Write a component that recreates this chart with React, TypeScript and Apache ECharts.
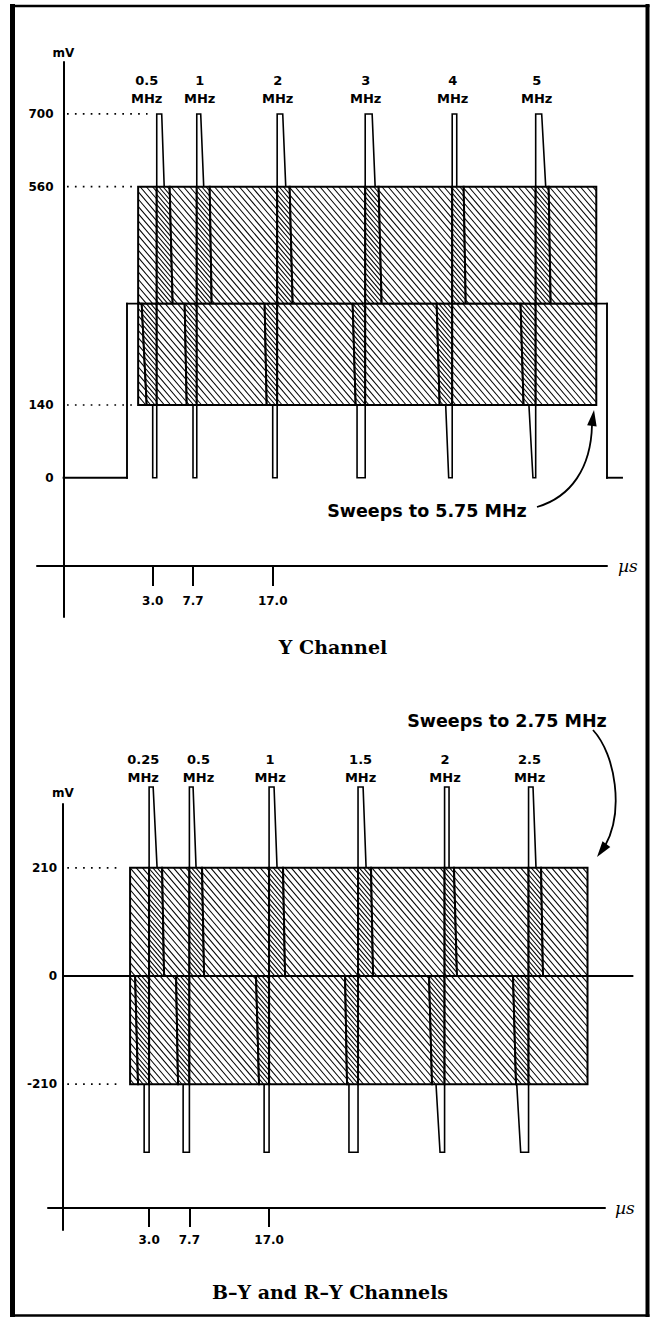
import React, { useEffect, useRef } from "react";
import * as echarts from "echarts";

// ---------------- shared ----------------
const TIME_TICKS_US = [3.0, 7.7, 17.0];

// ---------------- Y channel (time in µs, level in mV) ----------------
const Y_AXIS_LEVELS_MV = [0, 140, 560, 700];
const Y_SPIKE_TOP_MV = 700;
const Y_PACKET_TOP_MV = 560;
const Y_PEDESTAL_MV = 335;
const Y_PACKET_BOTTOM_MV = 140;
const Y_BASE_MV = 0;
const Y_FREQ_MHZ = ["0.5", "1", "2", "3", "4", "5"];
const Y_FREQ_LABEL_US = [2.3, 8.48, 17.58, 27.85, 38.0, 47.8];
const Y_BURST_US = [3.47, 8.14, 17.52, 27.79, 37.94, 47.68];
const Y_UPPER_STRIP_END_TOP_US = [4.98, 9.65, 18.98, 29.36, 39.28, 49.2];
const Y_UPPER_STRIP_END_BOT_US = [5.33, 9.88, 19.33, 29.71, 39.52, 49.43];
const Y_LOWER_STRIP_START_TOP_US = [1.72, 6.73, 16.06, 26.33, 36.13, 45.92];
const Y_LOWER_STRIP_START_BOT_US = [2.3, 6.97, 16.3, 26.68, 36.48, 46.27];
const Y_TOP_SPIKE_END_TOP_US = [4.05, 8.6, 18.17, 28.6, 38.47, 48.38];
const Y_TOP_SPIKE_END_BASE_US = [4.34, 8.95, 18.52, 28.95, 38.47, 48.85];
const Y_BOT_SPIKE_START_TOP_US = [3.0, 7.7, 17.0, 26.84, 37.18, 46.89];
const Y_BOT_SPIKE_START_BASE_US = [3.0, 7.7, 17.0, 26.84, 37.53, 47.36];
const Y_PACKET_START_US = 1.3;
const Y_PACKET_END_US = 54.75;
const Y_SIGNAL_US = [-7.4, 0, 0, 56, 56, 57.75];
const Y_SIGNAL_MV = [0, 0, 335, 335, 0, 0];
const Y_LEADER_MV = [700, 560, 140];
const Y_LEADER_START_US = -7.0;
const Y_LEADER_END_US = [2.4, 0.9, 0.67];

// ---------------- B-Y / R-Y channels ----------------
const C_AXIS_LEVELS_MV = [-210, 0, 210];
const C_SPIKE_TOP_MV = 367;
const C_PACKET_TOP_MV = 210;
const C_MID_MV = 0;
const C_PACKET_BOTTOM_MV = -210;
const C_SPIKE_BOTTOM_MV = -342;
const C_FREQ_MHZ = ["0.25", "0.5", "1", "1.5", "2", "2.5"];
const C_FREQ_LABEL_US = [2.31, 8.77, 17.12, 27.68, 37.53, 47.4];
const C_BURST_US = [3.0, 7.7, 17.0, 27.38, 37.48, 47.28];
const C_UPPER_STRIP_END_TOP_US = [4.52, 9.18, 18.63, 28.9, 38.58, 48.74];
const C_UPPER_STRIP_END_BOT_US = [4.75, 9.42, 18.87, 29.14, 38.93, 48.97];
const C_LOWER_STRIP_START_TOP_US = [1.37, 6.15, 15.48, 25.87, 35.67, 45.47];
const C_LOWER_STRIP_START_BOT_US = [1.71, 6.38, 15.83, 26.1, 36.02, 45.82];
const C_TOP_SPIKE_END_TOP_US = [3.47, 8.13, 17.58, 27.97, 38.0, 47.8];
const C_TOP_SPIKE_END_BASE_US = [3.93, 8.48, 17.93, 28.32, 38.0, 48.15];
const C_BOT_SPIKE_START_TOP_US = [2.42, 6.97, 16.42, 26.32, 36.48, 45.9];
const C_BOT_SPIKE_START_BASE_US = [2.42, 6.97, 16.42, 26.32, 36.95, 46.36];
const C_PACKET_START_US = 0.78;
const C_PACKET_END_US = 54.16;
const C_BASELINE_US = [-7.05, 59.4];
const C_LEADER_MV = [210, -210];
const C_LEADER_START_US = -6.55;
const C_LEADER_END_US = [-0.15, -0.15];

// ---------------- builders ----------------
function upperSegments(start, end, burst, endTop, endBot, vTop, vBot) {
  const b: number[][] = [[start, start]];
  burst.forEach((t, k) => {
    b.push([t, t]);
    b.push([endTop[k], endBot[k]]);
  });
  b.push([end, end]);
  const out: number[][] = [];
  for (let i = 0; i < b.length - 1; i++) {
    out.push([b[i][0], b[i][1], b[i + 1][0], b[i + 1][1], vTop, vBot, i % 2]);
  }
  return out;
}
function lowerSegments(start, end, burst, startTop, startBot, vTop, vBot) {
  const b: number[][] = [[start, start]];
  burst.forEach((t, k) => {
    b.push([startTop[k], startBot[k]]);
    b.push([t, t]);
  });
  b.push([end, end]);
  const out: number[][] = [];
  for (let i = 0; i < b.length - 1; i++) {
    out.push([b[i][0], b[i][1], b[i + 1][0], b[i + 1][1], vTop, vBot, i % 2]);
  }
  return out;
}
function topSpikes(burst, endTop, endBase, vBase, vTop) {
  return burst.map((t, k) => [t, vBase, t, vTop, endTop[k], vTop, endBase[k], vBase]);
}
function bottomSpikes(burst, startTop, startBase, vHigh, vLow) {
  return burst.map((t, k) => [startTop[k], vHigh, startBase[k], vLow, t, vLow, t, vHigh]);
}
function toSegments(xs: number[], ys: number[]) {
  const out: number[][] = [];
  for (let i = 0; i < xs.length - 1; i++) out.push([xs[i], ys[i], xs[i + 1], ys[i + 1]]);
  return out;
}

const HATCH_SLOPE = 0.85;
function renderHatch(params: any, api: any) {
  const lT = api.value(0), lB = api.value(1), rT = api.value(2), rB = api.value(3);
  const vTop = api.value(4), vBot = api.value(5), dense = api.value(6);
  const pLT = api.coord([lT, vTop]);
  const pLB = api.coord([lB, vBot]);
  const pRT = api.coord([rT, vTop]);
  const pRB = api.coord([rB, vBot]);
  const yT = pLT[1];
  const yB = pLB[1];
  const h = yB - yT;
  const kL = (pLB[0] - pLT[0]) / h;
  const kR = (pRB[0] - pRT[0]) / h;
  const m = HATCH_SLOPE;
  const s = dense ? 4.3 : 6.2;
  const children: any[] = [
    { type: "polygon", shape: { points: [pLT, pRT, pRB, pLB] }, style: { fill: "#fff" } },
  ];
  const cMin = Math.min(pLT[0], pLB[0]) - m * yB;
  const cMax = Math.max(pRT[0], pRB[0]) - m * yT;
  for (let c = Math.ceil(cMin / s) * s; c <= cMax; c += s) {
    const ya = Math.max(yT, (pLT[0] - kL * yT - c) / (m - kL));
    const yb = Math.min(yB, (pRT[0] - kR * yT - c) / (m - kR));
    if (yb - ya > 0.6) {
      children.push({
        type: "line",
        shape: { x1: c + m * ya, y1: ya, x2: c + m * yb, y2: yb },
        style: { stroke: "#000", lineWidth: 1.05 },
      });
    }
  }
  children.push({
    type: "polygon",
    shape: { points: [pLT, pRT, pRB, pLB] },
    style: { fill: "none", stroke: "#000", lineWidth: 2 },
  });
  return { type: "group", children };
}
function renderOutline(params: any, api: any) {
  const pts = [0, 1, 2, 3].map((i) => api.coord([api.value(2 * i), api.value(2 * i + 1)]));
  return {
    type: "polyline",
    shape: { points: pts },
    style: { fill: "none", stroke: "#000", lineWidth: 1.6 },
  };
}
function renderSegment(params: any, api: any) {
  const a = api.coord([api.value(0), api.value(1)]);
  const b = api.coord([api.value(2), api.value(3)]);
  return {
    type: "line",
    shape: { x1: a[0], y1: a[1], x2: b[0], y2: b[1] },
    style: { stroke: "#000", lineWidth: 1.9, lineCap: "square" },
  };
}

const SANS = "DejaVu Sans";
const SERIF = "DejaVu Serif";
const labelFont = { fontFamily: SANS, fontWeight: "bold", fontSize: 12, color: "#000" };

function buildAxes(i: number, cfg: any) {
  const x = {
    type: "value",
    gridIndex: i,
    min: cfg.xMin,
    max: cfg.xMax,
    position: "bottom",
    offset: cfg.xOffset,
    axisLine: { show: true, onZero: false, lineStyle: { color: "#000", width: 2 } },
    axisTick: {
      show: true,
      customValues: TIME_TICKS_US,
      length: cfg.tickLen,
      lineStyle: { color: "#000", width: 2 },
    },
    axisLabel: {
      show: true,
      customValues: TIME_TICKS_US,
      formatter: (v: number) => v.toFixed(1),
      margin: cfg.xLabelMargin,
      ...labelFont,
    },
    splitLine: { show: false },
    name: "µs",
    nameLocation: "end",
    nameGap: cfg.xNameGap,
    nameTextStyle: { fontFamily: SERIF, fontStyle: "italic", fontSize: 17, color: "#000" },
  };
  const y = {
    type: "value",
    gridIndex: i,
    min: cfg.yMin,
    max: cfg.yMax,
    position: "left",
    offset: cfg.yOffset,
    axisLine: { show: true, onZero: false, lineStyle: { color: "#000", width: 2 } },
    axisTick: { show: false },
    axisLabel: {
      show: true,
      customValues: cfg.levels,
      formatter: (v: number) => String(v),
      margin: cfg.yLabelMargin,
      ...labelFont,
    },
    splitLine: { show: false },
    name: "mV",
    nameLocation: "end",
    nameGap: cfg.yNameGap,
    nameTextStyle: { ...labelFont },
  };
  return { x, y };
}

function leaderSeries(i: number, levels: number[], start: number, ends: number[]) {
  return levels.map((v, k) => ({
    type: "line",
    xAxisIndex: i,
    yAxisIndex: i,
    silent: true,
    symbol: "none",
    clip: false,
    data: [
      [start, v],
      [ends[k], v],
    ],
    lineStyle: { color: "#000", width: 1.7, type: [1.7, 6.2] },
  }));
}

function labelSeries(i: number, xs: number[], names: string[], v: number, dist: number) {
  return {
    type: "scatter",
    xAxisIndex: i,
    yAxisIndex: i,
    silent: true,
    clip: false,
    symbolSize: 0,
    itemStyle: { opacity: 1, color: "#000" },
    data: xs.map((t, k) => ({ value: [t, v], name: names[k] })),
    label: {
      show: true,
      position: "top",
      distance: dist,
      formatter: (p: any) => `${p.name}\nMHz`,
      align: "center",
      lineHeight: 18.5,
      opacity: 1,
      ...labelFont,
      fontSize: 13,
    },
  };
}

function arrowHead(tip: number[], from: number[], len: number, half: number) {
  const dx = tip[0] - from[0];
  const dy = tip[1] - from[1];
  const d = Math.hypot(dx, dy);
  const ux = dx / d, uy = dy / d;
  const bx = tip[0] - ux * len, by = tip[1] - uy * len;
  return [
    [tip[0], tip[1]],
    [bx - uy * half, by + ux * half],
    [bx + uy * half, by - ux * half],
  ];
}

export default function App() {
  const ref = useRef<HTMLDivElement>(null);
  useEffect(() => {
    const chart = echarts.init(ref.current!, null, { renderer: "svg" });

    const top = buildAxes(0, {
      xMin: -10.5, xMax: 56, xOffset: -51, tickLen: 20, xLabelMargin: 29, xNameGap: 11,
      yMin: -268, yMax: 800, yOffset: -26.5, yLabelMargin: 10, yNameGap: 3, levels: Y_AXIS_LEVELS_MV,
    });
    const bot = buildAxes(1, {
      xMin: -8.8, xMax: 56.2, xOffset: -22, tickLen: 19, xLabelMargin: 26, xNameGap: 10,
      yMin: -493, yMax: 334, yOffset: -15, yLabelMargin: 6, yNameGap: 5, levels: C_AXIS_LEVELS_MV,
    });

    const ySegs = [
      ...upperSegments(Y_PACKET_START_US, Y_PACKET_END_US, Y_BURST_US, Y_UPPER_STRIP_END_TOP_US,
        Y_UPPER_STRIP_END_BOT_US, Y_PACKET_TOP_MV, Y_PEDESTAL_MV),
      ...lowerSegments(Y_PACKET_START_US, Y_PACKET_END_US, Y_BURST_US, Y_LOWER_STRIP_START_TOP_US,
        Y_LOWER_STRIP_START_BOT_US, Y_PEDESTAL_MV, Y_PACKET_BOTTOM_MV),
    ];
    const ySpikes = [
      ...topSpikes(Y_BURST_US, Y_TOP_SPIKE_END_TOP_US, Y_TOP_SPIKE_END_BASE_US, Y_PACKET_TOP_MV, Y_SPIKE_TOP_MV),
      ...bottomSpikes(Y_BURST_US, Y_BOT_SPIKE_START_TOP_US, Y_BOT_SPIKE_START_BASE_US, Y_PACKET_BOTTOM_MV, Y_BASE_MV),
    ];
    const cSegs = [
      ...upperSegments(C_PACKET_START_US, C_PACKET_END_US, C_BURST_US, C_UPPER_STRIP_END_TOP_US,
        C_UPPER_STRIP_END_BOT_US, C_PACKET_TOP_MV, C_MID_MV),
      ...lowerSegments(C_PACKET_START_US, C_PACKET_END_US, C_BURST_US, C_LOWER_STRIP_START_TOP_US,
        C_LOWER_STRIP_START_BOT_US, C_MID_MV, C_PACKET_BOTTOM_MV),
    ];
    const cSpikes = [
      ...topSpikes(C_BURST_US, C_TOP_SPIKE_END_TOP_US, C_TOP_SPIKE_END_BASE_US, C_PACKET_TOP_MV, C_SPIKE_TOP_MV),
      ...bottomSpikes(C_BURST_US, C_BOT_SPIKE_START_TOP_US, C_BOT_SPIKE_START_BASE_US, C_PACKET_BOTTOM_MV, C_SPIKE_BOTTOM_MV),
    ];

    const series: any[] = [
      {
        type: "custom", xAxisIndex: 0, yAxisIndex: 0, silent: true, clip: false,
        renderItem: renderSegment, data: toSegments(Y_SIGNAL_US, Y_SIGNAL_MV),
      },
      ...leaderSeries(0, Y_LEADER_MV, Y_LEADER_START_US, Y_LEADER_END_US),
      { type: "custom", xAxisIndex: 0, yAxisIndex: 0, silent: true, clip: false, renderItem: renderHatch, data: ySegs },
      { type: "custom", xAxisIndex: 0, yAxisIndex: 0, silent: true, clip: false, renderItem: renderOutline, data: ySpikes },
      labelSeries(0, Y_FREQ_LABEL_US, Y_FREQ_MHZ, Y_SPIKE_TOP_MV, 6),
      {
        type: "custom", xAxisIndex: 1, yAxisIndex: 1, silent: true, clip: false,
        renderItem: renderSegment, data: toSegments(C_BASELINE_US, C_BASELINE_US.map(() => C_MID_MV)),
      },
      ...leaderSeries(1, C_LEADER_MV, C_LEADER_START_US, C_LEADER_END_US),
      { type: "custom", xAxisIndex: 1, yAxisIndex: 1, silent: true, clip: false, renderItem: renderHatch, data: cSegs },
      { type: "custom", xAxisIndex: 1, yAxisIndex: 1, silent: true, clip: false, renderItem: renderOutline, data: cSpikes },
      labelSeries(1, C_FREQ_LABEL_US, C_FREQ_MHZ, C_SPIKE_TOP_MV, 0),
    ];

    const arrowTop = { p0: [537, 507], c1: [571, 497], c2: [591, 468], p3: [592, 425], tip: [594, 410] };
    const arrowBot = { p0: [593, 730], c1: [616, 755], c2: [624, 812], p3: [605, 846], tip: [597, 857] };
    const arrow = (a: any) => [
      {
        type: "bezierCurve",
        shape: {
          x1: a.p0[0], y1: a.p0[1], cpx1: a.c1[0], cpy1: a.c1[1],
          cpx2: a.c2[0], cpy2: a.c2[1], x2: a.p3[0], y2: a.p3[1],
        },
        style: { stroke: "#000", lineWidth: 1.8, fill: "none" },
        silent: true,
      },
      {
        type: "polygon",
        shape: { points: arrowHead(a.tip, a.p3, 16, 4.8) },
        style: { fill: "#000" },
        silent: true,
      },
    ];

    const graphic: any[] = [
      { type: "line", shape: { x1: 12.5, y1: 4, x2: 12.5, y2: 1317 }, style: { stroke: "#000", lineWidth: 5 }, silent: true },
      { type: "line", shape: { x1: 647.5, y1: 4, x2: 647.5, y2: 1317 }, style: { stroke: "#000", lineWidth: 4 }, silent: true },
      { type: "line", shape: { x1: 10, y1: 6, x2: 649.5, y2: 6 }, style: { stroke: "#000", lineWidth: 2.5 }, silent: true },
      { type: "line", shape: { x1: 10, y1: 1315.5, x2: 649.5, y2: 1315.5 }, style: { stroke: "#000", lineWidth: 2.5 }, silent: true },
      {
        type: "text", x: 333, y: 647, silent: true,
        style: { text: "Y Channel", textAlign: "center", textVerticalAlign: "middle", font: `bold 19px "${SERIF}"`, fill: "#000" },
      },
      {
        type: "text", x: 330, y: 1292, silent: true,
        style: { text: "B–Y and R–Y Channels", textAlign: "center", textVerticalAlign: "middle", font: `bold 19px "${SERIF}"`, fill: "#000" },
      },
      {
        type: "text", x: 427, y: 511, silent: true,
        style: { text: "Sweeps to 5.75 MHz", textAlign: "center", textVerticalAlign: "middle", font: `bold 17.5px "${SANS}"`, fill: "#000" },
      },
      {
        type: "text", x: 507, y: 721, silent: true,
        style: { text: "Sweeps to 2.75 MHz", textAlign: "center", textVerticalAlign: "middle", font: `bold 17.5px "${SANS}"`, fill: "#000" },
      },
      ...arrow(arrowTop),
      ...arrow(arrowBot),
    ];

    chart.setOption({
      animation: false,
      backgroundColor: "#fff",
      tooltip: { show: false },
      grid: [
        { left: 37, top: 62, width: 570, height: 555, outerBoundsMode: "none", containLabel: false },
        { left: 48, top: 804, width: 557, height: 426, outerBoundsMode: "none", containLabel: false },
      ],
      xAxis: [top.x, bot.x],
      yAxis: [top.y, bot.y],
      series,
      graphic,
    });
    return () => chart.dispose();
  }, []);
  return (
    <div
      ref={ref}
      style={{ position: "absolute", left: 0, top: 0, width: 655, height: 1320, background: "#fff" }}
    />
  );
}
